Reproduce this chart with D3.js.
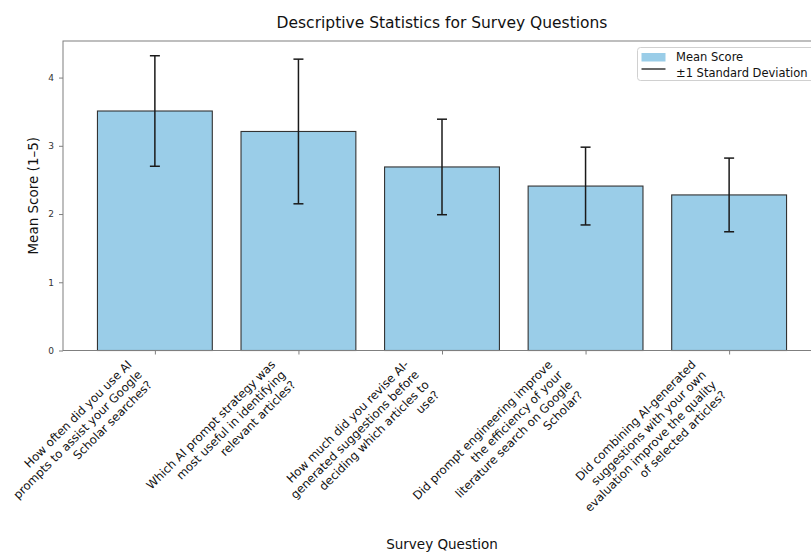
<!DOCTYPE html>
<html>
<head>
<meta charset="utf-8">
<script src="https://cdn.jsdelivr.net/npm/d3@7"></script>
<style>
  html, body { margin: 0; padding: 0; background: #fff; }
  svg { display: block; overflow: hidden; font-family: "DejaVu Sans", sans-serif; }
</style>
</head>
<body>
<svg id="chart" width="811" height="552"></svg>
<script>
// Survey questions (pre-wrapped into lines for the rotated tick labels)
const questions = [
  ["How often did you use AI", "prompts to assist your Google", "Scholar searches?"],
  ["Which AI prompt strategy was", "most useful in identifying", "relevant articles?"],
  ["How much did you revise AI-", "generated suggestions before", "deciding which articles to", "use?"],
  ["Did prompt engineering improve", "the efficiency of your", "literature search on Google", "Scholar?"],
  ["Did combining AI-generated", "suggestions with your own", "evaluation improve the quality", "of selected articles?"]
];
const meanScores = [3.51, 3.21, 2.69, 2.41, 2.28];
const stdDevs = [0.81, 1.06, 0.70, 0.57, 0.54];
const yTicks = [0, 1, 2, 3, 4];

const titleText = "Descriptive Statistics for Survey Questions";
const xLabelText = "Survey Question";
const yLabelText = "Mean Score (1\u20135)";
const legendLabels = ["Mean Score", "\u00b11 Standard Deviation"];

const svg = d3.select("#chart");

// Plot frame (right edge runs past the visible canvas)
const plot = { left: 63, right: 821, top: 41, bottom: 350.5 };

const barWidthFrac = 0.8;
const idx = d3.range(questions.length);

// Linear x scale in bar-index units, with matplotlib-like margins
const x = d3.scaleLinear()
  .domain([-0.64, questions.length - 1 + 0.64])
  .range([plot.left, plot.right]);

const yMax = d3.max(idx, i => meanScores[i] + stdDevs[i]) * 1.05;
const y = d3.scaleLinear()
  .domain([0, yMax])
  .range([plot.bottom, plot.top]);

const barColor = "#9acde8";
const spineColor = "#7f7f7f";

// Bars
svg.append("g")
  .selectAll("rect")
  .data(idx)
  .join("rect")
  .attr("x", i => x(i - barWidthFrac / 2))
  .attr("width", i => x(i + barWidthFrac / 2) - x(i - barWidthFrac / 2))
  .attr("y", i => y(meanScores[i]))
  .attr("height", i => y(0) - y(meanScores[i]))
  .attr("fill", barColor)
  .attr("stroke", "#333")
  .attr("stroke-width", 1.1);

// Error bars (±1 SD) with caps
const capHalf = 5;
const eb = svg.append("g").attr("stroke", "#1a1a1a").attr("stroke-width", 1.5).attr("fill", "none");
idx.forEach(i => {
  const cx = x(i);
  const hi = y(meanScores[i] + stdDevs[i]);
  const lo = y(meanScores[i] - stdDevs[i]);
  eb.append("line").attr("x1", cx).attr("x2", cx).attr("y1", hi).attr("y2", lo);
  eb.append("line").attr("x1", cx - capHalf).attr("x2", cx + capHalf).attr("y1", hi).attr("y2", hi);
  eb.append("line").attr("x1", cx - capHalf).attr("x2", cx + capHalf).attr("y1", lo).attr("y2", lo);
});

// Spines
const frame = svg.append("g").attr("stroke", spineColor).attr("stroke-width", 1).attr("fill", "none");
frame.append("rect")
  .attr("x", plot.left).attr("y", plot.top)
  .attr("width", plot.right - plot.left).attr("height", plot.bottom - plot.top);

// Y axis
const yAxis = svg.append("g")
  .attr("transform", `translate(${plot.left},0)`)
  .call(d3.axisLeft(y).tickValues(yTicks).tickFormat(d3.format("d")).tickSize(4).tickPadding(5));
yAxis.select(".domain").remove();
yAxis.selectAll(".tick line").attr("stroke", spineColor);
yAxis.selectAll(".tick text").attr("fill", "#333").attr("font-size", 9).attr("font-family", "DejaVu Sans");

// X axis ticks (labels drawn separately, rotated)
const xAxis = svg.append("g")
  .attr("transform", `translate(0,${plot.bottom})`)
  .call(d3.axisBottom(x).tickValues(idx).tickFormat("").tickSize(4));
xAxis.select(".domain").remove();
xAxis.selectAll(".tick line").attr("stroke", spineColor);

// Rotated, right-aligned multi-line tick labels; the rotated box's
// right edge sits at the tick and its top just below the tick mark.
const labelFont = 11.7;
const lineH = 14.3;
const labelTop = plot.bottom + 7;
const ang = -45 * Math.PI / 180;
idx.forEach(i => {
  const g = svg.append("g");
  const t = g.append("text")
    .attr("font-size", labelFont)
    .attr("fill", "#111")
    .attr("text-anchor", "end");
  questions[i].forEach((ln, k) => {
    t.append("tspan").attr("x", 0).attr("y", k * lineH).text(ln);
  });
  const bb = t.node().getBBox();
  const corners = [
    [bb.x, bb.y], [bb.x + bb.width, bb.y],
    [bb.x, bb.y + bb.height], [bb.x + bb.width, bb.y + bb.height]
  ].map(([px, py]) => [px * Math.cos(ang) - py * Math.sin(ang), px * Math.sin(ang) + py * Math.cos(ang)]);
  const maxX = d3.max(corners, c => c[0]);
  const minY = d3.min(corners, c => c[1]);
  g.attr("transform", `translate(${x(i) - maxX},${labelTop - minY}) rotate(-45)`);
});

// Title and axis labels
svg.append("text")
  .attr("x", (plot.left + plot.right) / 2).attr("y", 27.5)
  .attr("text-anchor", "middle").attr("font-size", 15.5).attr("fill", "#111")
  .text(titleText);

svg.append("text")
  .attr("x", (plot.left + plot.right) / 2).attr("y", 549)
  .attr("text-anchor", "middle").attr("font-size", 13.5).attr("fill", "#111")
  .text(xLabelText);

svg.append("text")
  .attr("transform", `translate(38,${(plot.top + plot.bottom) / 2}) rotate(-90)`)
  .attr("text-anchor", "middle").attr("font-size", 13.5).attr("fill", "#111")
  .text(yLabelText);

// Legend
const lg = svg.append("g").attr("transform", "translate(637.5,47.5)");
lg.append("rect")
  .attr("x", 0).attr("y", 0).attr("width", 200).attr("height", 33)
  .attr("rx", 3).attr("fill", "#fff").attr("fill-opacity", 0.8)
  .attr("stroke", "#d0d0d0").attr("stroke-width", 1);
lg.append("rect")
  .attr("x", 4).attr("y", 5.5).attr("width", 24).attr("height", 8.5)
  .attr("fill", barColor);
lg.append("line")
  .attr("x1", 4).attr("x2", 28).attr("y1", 21.5).attr("y2", 21.5)
  .attr("stroke", "#1a1a1a").attr("stroke-width", 1.3);
lg.selectAll("text.lbl")
  .data(legendLabels)
  .join("text")
  .attr("class", "lbl")
  .attr("x", 38.5)
  .attr("y", (d, k) => 13.8 + k * 15.7)
  .attr("font-size", 11.5)
  .attr("fill", "#111")
  .text(d => d);
</script>
</body>
</html>
